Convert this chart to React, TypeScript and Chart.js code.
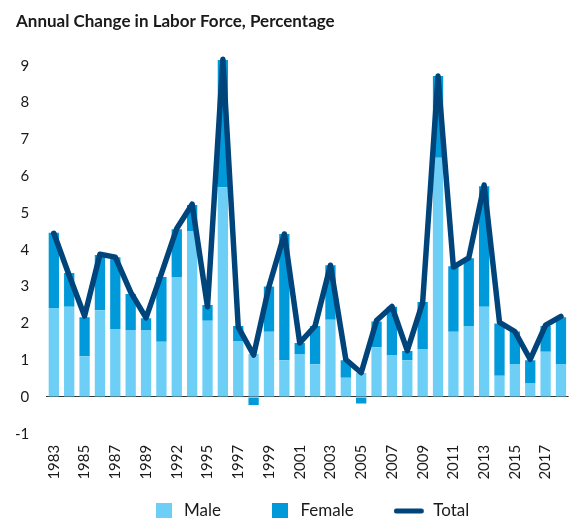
import React, { useEffect, useRef } from 'react';
import { Chart, registerables } from 'chart.js';

Chart.register(...registerables);

const years = [
  '1983', '1984', '1985', '1986', '1987', '1988', '1989', '1990', '1992', '1993',
  '1995', '1996', '1997', '1998', '1999', '2000', '2001', '2002', '2003', '2004',
  '2005', '2006', '2007', '2008', '2009', '2010', '2011', '2012', '2013', '2014',
  '2015', '2016', '2017', '2018',
];

const male = [
  2.42, 2.45, 1.11, 2.36, 1.85, 1.82, 1.82, 1.5, 3.26, 4.5,
  2.07, 5.7, 1.52, 1.17, 1.77, 1.0, 1.17, 0.89, 2.1, 0.52,
  0.65, 1.35, 1.13, 1.0, 1.29, 6.5, 1.77, 1.93, 2.45, 0.58,
  0.9, 0.38, 1.23, 0.9,
];

const female = [
  2.04, 0.92, 1.06, 1.5, 1.95, 0.98, 0.32, 1.76, 1.3, 0.72,
  0.43, 3.46, 0.41, -0.22, 1.23, 3.43, 0.3, 1.04, 1.48, 0.48,
  -0.18, 0.7, 1.32, 0.25, 1.29, 2.22, 1.78, 1.84, 3.28, 1.42,
  0.88, 0.62, 0.7, 1.27,
];

const total = [
  4.45, 3.3, 2.2, 3.88, 3.8, 2.85, 2.15, 3.35, 4.58, 5.24,
  2.45, 9.18, 1.9, 1.14, 3.0, 4.43, 1.47, 1.93, 3.58, 1.02,
  0.66, 2.08, 2.46, 1.26, 2.57, 8.72, 3.53, 3.78, 5.76, 2.03,
  1.78, 1.02, 1.95, 2.19,
];

const seriesNames = ['Male', 'Female', 'Total'];
const titleText = 'Annual Change in Labor Force, Percentage';

const MALE_COLOR = '#6DCFF6';
const FEMALE_COLOR = '#009ADA';
const TOTAL_COLOR = '#00447C';
const FONT = 'Lato, "Open Sans", sans-serif';

function makeBox(color: string) {
  const c = document.createElement('canvas');
  c.width = 16;
  c.height = 16;
  const x = c.getContext('2d')!;
  x.fillStyle = color;
  x.fillRect(0, 0, 16, 16);
  return c;
}

function makeLine(color: string) {
  const c = document.createElement('canvas');
  c.width = 38;
  c.height = 6;
  const x = c.getContext('2d')!;
  x.strokeStyle = color;
  x.lineWidth = 5;
  x.lineCap = 'round';
  x.beginPath();
  x.moveTo(2.5, 3);
  x.lineTo(27.5, 3);
  x.stroke();
  return c;
}

const LEGEND_PAD = 47;
const LEGEND_ITEM_TOP = 502.5;
const LEGEND_SHIFT = 6;

const legendFit = {
  id: 'legendFit',
  beforeInit(chart: any) {
    const lg = chart.legend;
    if (!lg) return;
    const orig = lg.fit;
    lg.fit = function () {
      orig.call(this);
      this.height = 34.2;
    };
  },
  afterLayout(chart: any) {
    const lg = chart.legend;
    if (!lg) return;
    lg.top = LEGEND_ITEM_TOP - LEGEND_PAD;
    lg.bottom = chart.height;
    lg.left += LEGEND_SHIFT;
  },
};

export default function App() {
  const ref = useRef<HTMLCanvasElement | null>(null);

  useEffect(() => {
    document.documentElement.style.overflow = 'hidden';
    document.body.style.overflow = 'hidden';
    if (!ref.current) return;
    const styles = [makeBox(MALE_COLOR), makeBox(FEMALE_COLOR), makeLine(TOTAL_COLOR)];

    const chart = new Chart(ref.current, {
      type: 'bar',
      data: {
        labels: years,
        datasets: [
          {
            type: 'bar',
            label: seriesNames[0],
            data: male,
            backgroundColor: MALE_COLOR,
            borderWidth: 0,
            barPercentage: 0.67,
            categoryPercentage: 1,
            stack: 'bars',
            order: 1,
          },
          {
            type: 'bar',
            label: seriesNames[1],
            data: female,
            backgroundColor: FEMALE_COLOR,
            borderWidth: 0,
            barPercentage: 0.67,
            categoryPercentage: 1,
            stack: 'bars',
            order: 1,
          },
          {
            type: 'line',
            label: seriesNames[2],
            data: total,
            borderColor: TOTAL_COLOR,
            backgroundColor: TOTAL_COLOR,
            borderWidth: 5.5,
            pointRadius: 0,
            pointHoverRadius: 0,
            tension: 0,
            borderJoinStyle: 'round',
            borderCapStyle: 'round',
            stack: 'total',
            order: 0,
          } as any,
        ],
      },
      options: {
        responsive: false,
        animation: false,
        events: [],
        layout: { padding: { left: 16, right: 2, top: 0, bottom: 0 } },
        scales: {
          x: {
            stacked: true,
            grid: { display: false },
            border: { display: false },
            ticks: {
              autoSkip: false,
              maxRotation: 90,
              minRotation: 90,
              padding: 3,
              color: '#1a1a1a',
              font: { family: FONT, size: 15 },
              callback: (_v: any, i: number) => (i % 2 === 0 ? years[i] : ''),
            },
            afterFit: (s: any) => {
              s.height = 50;
            },
          },
          y: {
            stacked: true,
            min: -1,
            max: 9.5,
            grid: {
              drawTicks: false,
              color: (ctx: any) => (ctx.tick && ctx.tick.value === 0 ? '#333333' : 'rgba(0,0,0,0)'),
              lineWidth: 1,
            },
            border: { display: false },
            ticks: {
              stepSize: 1,
              includeBounds: false,
              padding: 17,
              color: '#1a1a1a',
              font: { family: FONT, size: 15 },
              callback: (v: any) => (Number.isInteger(v) ? String(v) : null),
            },
            afterFit: (s: any) => {
              s.width = 30.15;
            },
          },
        },
        plugins: {
          title: {
            display: true,
            text: titleText,
            align: 'start',
            color: '#1a1a1a',
            font: { family: FONT, size: 17, weight: 'bold', lineHeight: 1.2 },
            padding: { top: 11.8, bottom: 15.2 },
          },
          legend: {
            display: true,
            position: 'bottom',
            fullSize: false,
            labels: {
              usePointStyle: true,
              pointStyleWidth: 24,
              boxWidth: 16,
              boxHeight: 16,
              padding: LEGEND_PAD,
              color: '#1a1a1a',
              font: { family: FONT, size: 17 },
              sort: (a: any, b: any) => a.datasetIndex - b.datasetIndex,
              generateLabels: (c: any) => {
                const items = Chart.defaults.plugins.legend.labels.generateLabels(c);
                return items.map((it: any) => ({ ...it, pointStyle: styles[it.datasetIndex] }));
              },
            },
          },
          tooltip: { enabled: false },
        },
      },
      plugins: [legendFit],
    } as any);

    return () => chart.destroy();
  }, []);

  return (
    <div style={{ position: 'fixed', left: 0, top: 0, width: 582, height: 518, background: '#fff' }}>
      <canvas ref={ref} width={582} height={518} style={{ display: 'block' }} />
    </div>
  );
}
